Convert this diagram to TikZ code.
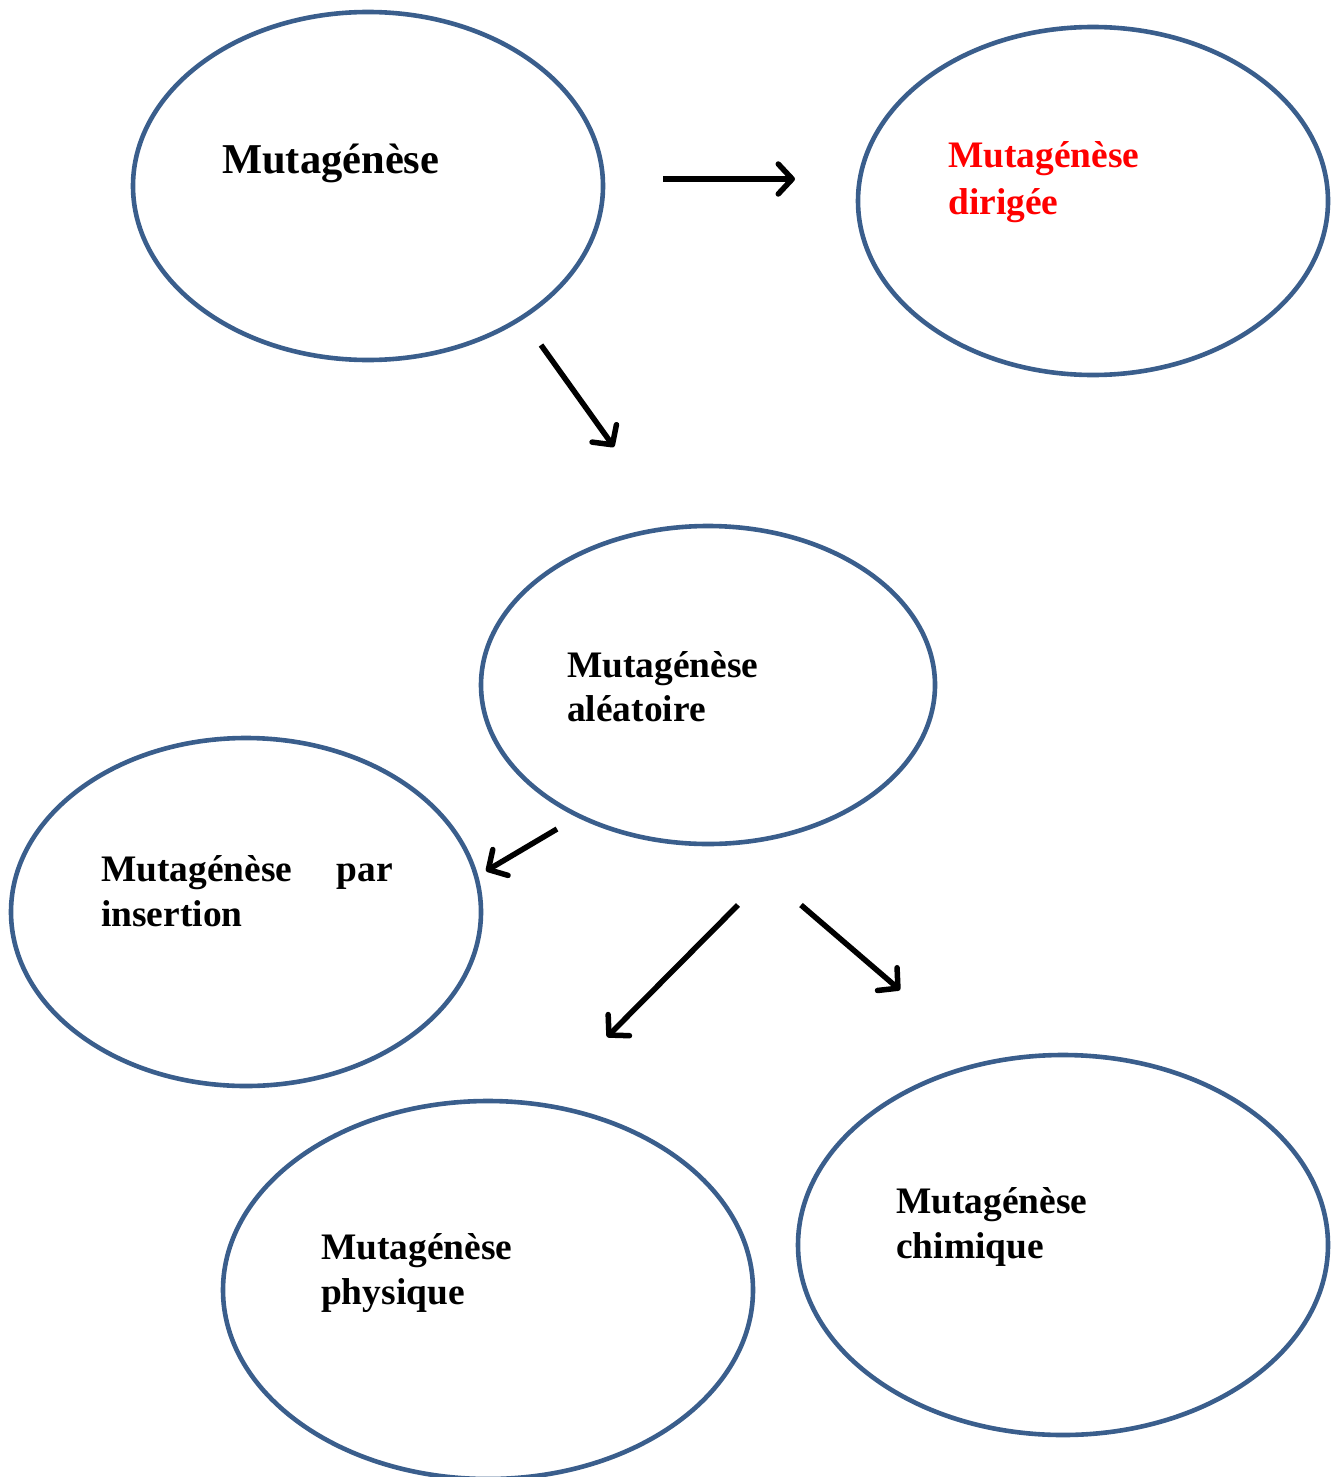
\documentclass[tikz,border=0pt]{standalone}
\usepackage{fontspec}
\setmainfont{Liberation Serif}
\usetikzlibrary{arrows.meta,shapes.geometric}
\definecolor{ellblue}{RGB}{58,94,140}
\definecolor{lblred}{RGB}{255,0,0}
\begin{document}
\begin{tikzpicture}[x=1pt,y=-1pt,
  bubble/.style={draw=ellblue,line width=4.6pt,ellipse,inner sep=0pt,minimum width=#1},
  lbl/.style={anchor=base west,inner sep=0pt,font=\fontsize{37.4}{45}\selectfont\bfseries},
  conn/.style={line width=5.5pt,-{Straight Barb[length=14pt,width=30pt,line cap=round,line join=round]}}]
\useasboundingbox (0,0) rectangle (1331,1477);
% ellipses
\node[bubble=470pt,minimum height=348pt] (e1) at (368,186) {};
\node[bubble=470pt,minimum height=348pt] (e2) at (1093,201) {};
\node[bubble=454pt,minimum height=318pt] (e3) at (708,685) {};
\node[bubble=470pt,minimum height=348pt] (e4) at (246,912) {};
\node[bubble=530pt,minimum height=378pt] (e5) at (488,1290) {};
\node[bubble=530pt,minimum height=380pt] (e6) at (1063,1245) {};
% labels
\node[lbl,font=\fontsize{42.5}{50}\selectfont\bfseries] (t1) at (222,173) {Mutagénèse};
\node[lbl,text=lblred] (t2a) at (948,167) {Mutagénèse};
\node[lbl,text=lblred] (t2b) at (948,214) {dirigée};
\node[lbl] (t3a) at (567,677) {Mutagénèse};
\node[lbl] (t3b) at (567,721) {aléatoire};
\node[lbl] (t4a) at (101,881) {Mutagénèse};
\node[lbl,anchor=base east] (t4p) at (393,881) {par};
\node[lbl] (t4b) at (101,926) {insertion};
\node[lbl] (t5a) at (321,1259) {Mutagénèse};
\node[lbl] (t5b) at (321,1304) {physique};
\node[lbl] (t6a) at (896,1213) {Mutagénèse};
\node[lbl] (t6b) at (896,1258) {chimique};
% arrow endpoints
\coordinate (a1) at (663,179); \coordinate (a2) at (795,179);
\coordinate (b1) at (541,345); \coordinate (b2) at (614,447);
\coordinate (c1) at (557,829); \coordinate (c2) at (486,871);
\coordinate (d1) at (738,905); \coordinate (d2) at (607,1037);
\coordinate (f1) at (801,905); \coordinate (f2) at (900,990);
\draw[conn] (a1) -- (a2);
\draw[conn] (b1) -- (b2);
\draw[conn] (c1) -- (c2);
\draw[conn] (d1) -- (d2);
\draw[conn] (f1) -- (f2);
\end{tikzpicture}
\end{document}
